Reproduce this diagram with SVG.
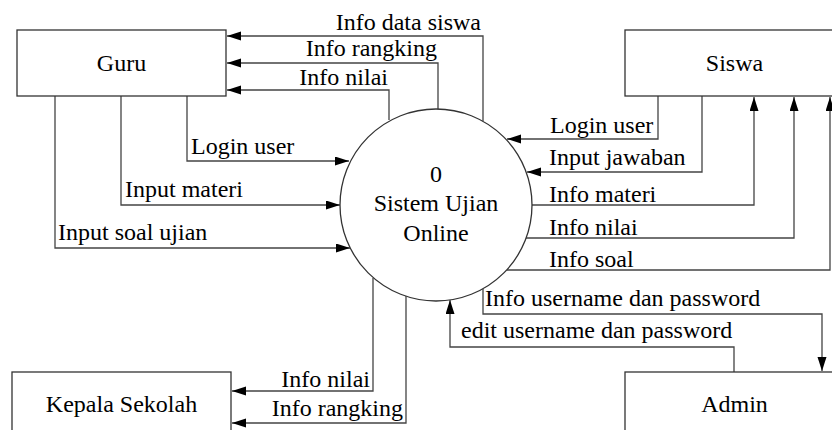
<svg xmlns="http://www.w3.org/2000/svg" width="832" height="430" viewBox="0 0 832 430" font-family="Liberation Serif, Tinos, Times New Roman, serif" font-size="24">
<style>
.box{fill:#fff;stroke:#333;stroke-width:1.3}
.ln{fill:none;stroke:#444;stroke-width:1.3}
text{fill:#000}
.e{text-anchor:end}
.m{text-anchor:middle}
</style>
<defs>
<marker id="ah" markerUnits="userSpaceOnUse" markerWidth="14" markerHeight="10" refX="14" refY="4.5" orient="auto">
<path d="M0,0 L14,4.5 L0,9 z" fill="#000"/>
</marker>
</defs>
<rect width="832" height="430" fill="#fff"/>
<g id="connectors">
<path class="ln" d="M483,121 V36 H227" marker-end="url(#ah)"/>
<path class="ln" d="M438,109 V63 H227" marker-end="url(#ah)"/>
<path class="ln" d="M389,120 V90 H227" marker-end="url(#ah)"/>
<path class="ln" d="M187,96 V161 H349" marker-end="url(#ah)"/>
<path class="ln" d="M121,96 V205 H340" marker-end="url(#ah)"/>
<path class="ln" d="M55,96 V248 H350" marker-end="url(#ah)"/>
<path class="ln" d="M658,96 V139 H507" marker-end="url(#ah)"/>
<path class="ln" d="M702,96 V172 H527" marker-end="url(#ah)"/>
<path class="ln" d="M532,205 H754 V97" marker-end="url(#ah)"/>
<path class="ln" d="M525,238 H794 V97" marker-end="url(#ah)"/>
<path class="ln" d="M507,270 H830 V97" marker-end="url(#ah)"/>
<path class="ln" d="M483,289 V314 H822 V371" marker-end="url(#ah)"/>
<path class="ln" d="M734,372 V347 H450 V300" marker-end="url(#ah)"/>
<path class="ln" d="M373,278 V391 H232" marker-end="url(#ah)"/>
<path class="ln" d="M406,296 V423 H232" marker-end="url(#ah)"/>
<text class="e" x="481" y="30">Info data siswa</text>
<text class="e" x="437" y="56">Info rangking</text>
<text class="e" x="388" y="85">Info nilai</text>
<text x="191" y="154">Login user</text>
<text x="125" y="197">Input materi</text>
<text x="58" y="240">Input soal ujian</text>
<text x="550" y="133">Login user</text>
<text x="549" y="165">Input jawaban</text>
<text x="549" y="202">Info materi</text>
<text x="549" y="235">Info nilai</text>
<text x="549" y="267">Info soal</text>
<text x="485" y="306">Info username dan password</text>
<text x="461" y="338">edit username dan password</text>
<text class="e" x="370" y="387">Info nilai</text>
<text class="e" x="403" y="416">Info rangking</text>
</g>
<g id="guru">
<rect class="box" x="17" y="30" width="209" height="66"/>
<text class="m" x="121.5" y="71">Guru</text>
</g>
<g id="siswa">
<rect class="box" x="625" y="30" width="219" height="66"/>
<text class="m" x="734.5" y="71">Siswa</text>
</g>
<g id="sistem">
<circle class="box" cx="436" cy="205" r="96"/>
<text class="m" x="436" y="182">0</text>
<text class="m" x="436" y="211">Sistem Ujian</text>
<text class="m" x="436" y="241">Online</text>
</g>
<g id="kepala-sekolah">
<rect class="box" x="12" y="372" width="219" height="70"/>
<text class="m" x="121.5" y="412">Kepala Sekolah</text>
</g>
<g id="admin">
<rect class="box" x="625" y="372" width="219" height="70"/>
<text class="m" x="734.5" y="412">Admin</text>
</g>
</svg>
